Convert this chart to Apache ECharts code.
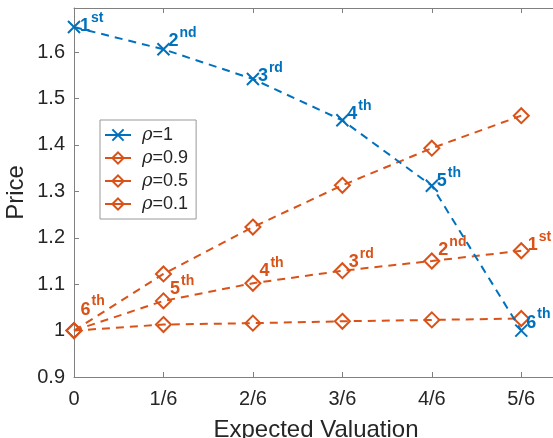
<!DOCTYPE html>
<html><head><meta charset="utf-8">
<script src="https://cdn.jsdelivr.net/npm/echarts@6/dist/echarts.min.js"></script>
<style>html,body{margin:0;padding:0;background:#fff}#c{width:553px;height:438px}</style>
</head><body><div id="c"></div>
<script>
// ---- data ----
const xSixths = [0, 1, 2, 3, 4, 5];
const xTickLabels = ['0', '1/6', '2/6', '3/6', '4/6', '5/6'];
const yTicks = [0.9, 1.0, 1.1, 1.2, 1.3, 1.4, 1.5, 1.6];
const yTickLabels = ['0.9', '1', '1.1', '1.2', '1.3', '1.4', '1.5', '1.6'];
const seriesNames = ['1', '0.9', '0.5', '0.1'];
const rho1 = [1.654, 1.606, 1.542, 1.453, 1.312, 1.0];
const rho09 = [1.0, 1.122, 1.223, 1.313, 1.393, 1.463];
const rho05 = [1.0, 1.064, 1.102, 1.129, 1.150, 1.172];
const rho01 = [1.0, 1.013, 1.016, 1.020, 1.023, 1.026];
const blueOrdinals = [['1', 'st'], ['2', 'nd'], ['3', 'rd'], ['4', 'th'], ['5', 'th'], ['6', 'th']];
const orangeOrdinals = [['6', 'th'], ['5', 'th'], ['4', 'th'], ['3', 'rd'], ['2', 'nd'], ['1', 'st']];

// ---- styles ----
const BLUE = '#0072BD', ORANGE = '#D95319', TXT = '#262626', AX = '#808080';
const FONT = 'Liberation Sans, Arial, Helvetica, sans-serif';
const blueOffsets = [[-1, -1], [-2, -8], [-2, -3], [-2, -6], [-2, -5], [-2, -8]];
const orangeOffsets = [[-2, -21], [-2, -12], [-2, -12], [-2, -9], [-2, -11], [-2, -6]];

function pts(arr) { return xSixths.map((x, i) => [x, arr[i]]); }
const rich = {
  n: { fontSize: 18, fontWeight: 'bold', lineHeight: 18, verticalAlign: 'bottom', fontFamily: FONT },
  s: { fontSize: 14, fontWeight: 'bold', lineHeight: 14, padding: [0, 0, 10, 1], verticalAlign: 'bottom', fontFamily: FONT }
};
function labeled(arr, ords, offs, color) {
  return xSixths.map((x, i) => ({
    value: [x, arr[i]],
    label: {
      show: true, position: 'right', distance: 0, offset: offs[i], color: color,
      formatter: '{n|' + ords[i][0] + '}{s|' + ords[i][1] + '}', rich: rich
    }
  }));
}
const xMark = 'path://M0,0L10,10M0,10L10,0';
const dashed = { type: [8, 6], width: 2 };

const chart = echarts.init(document.getElementById('c'), null, { renderer: 'canvas' });
const orangeSeries = (name, data) => ({
  name: name, type: 'line', data: data, symbol: 'diamond', symbolSize: 15,
  lineStyle: Object.assign({ color: ORANGE }, dashed),
  itemStyle: { color: 'rgba(0,0,0,0)', borderColor: ORANGE, borderWidth: 2 },
  z: 2
});
chart.setOption({
  animation: false,
  backgroundColor: '#fff',
  textStyle: { fontFamily: FONT, color: TXT },
  grid: { left: 74, top: 8, bottom: 61, right: -13, containLabel: false, outerBoundsMode: 'none' },
  legend: {
    orient: 'vertical', left: 100, top: 120,
    data: seriesNames.map(n => 'ρ=' + n),
    formatter: function (name) { return '{i|ρ}' + name.slice(1); },
    itemWidth: 26, itemHeight: 14, itemGap: 5,
    padding: [6, 8, 6, 4],
    borderColor: '#999', borderWidth: 1, backgroundColor: '#fff',
    lineStyle: { type: 'solid', width: 2 },
    textStyle: {
      fontSize: 18, color: TXT, fontFamily: FONT, padding: [0, 0, 0, 6],
      rich: { i: { fontSize: 18, fontStyle: 'italic', color: TXT, fontFamily: 'DejaVu Serif, serif' } }
    }
  },
  xAxis: [{
    type: 'value', min: 0, max: 5.5, interval: 1, position: 'bottom',
    name: 'Expected Valuation', nameLocation: 'middle', nameGap: 41, nameMoveOverlap: false,
    nameTextStyle: { fontSize: 24, color: TXT, fontFamily: FONT, padding: [0, 8, 0, 0] },
    axisLine: { show: true, lineStyle: { color: AX, width: 1 } },
    axisTick: { show: true, inside: true, length: 5, lineStyle: { color: AX } },
    axisLabel: {
      fontSize: 20, color: TXT, margin: 12, fontFamily: FONT,
      formatter: v => { const i = xSixths.indexOf(Math.round(v * 1000) / 1000); return i >= 0 ? xTickLabels[i] : ''; }
    },
    splitLine: { show: false }
  }, {
    type: 'value', min: 0, max: 5.5, interval: 1, position: 'top',
    axisLine: { show: true, lineStyle: { color: AX, width: 1 } },
    axisTick: { show: true, inside: true, length: 5, lineStyle: { color: AX } },
    axisLabel: { show: false }, splitLine: { show: false }
  }],
  yAxis: [{
    type: 'value', min: 0.9, max: 1.695, interval: 0.1,
    name: 'Price', nameLocation: 'middle', nameGap: 46, nameMoveOverlap: false,
    nameTextStyle: { fontSize: 24, color: TXT, fontFamily: FONT },
    axisLine: { show: true, lineStyle: { color: AX, width: 1 } },
    axisTick: { show: true, inside: true, length: 5, lineStyle: { color: AX } },
    axisLabel: {
      fontSize: 20, color: TXT, margin: 9, fontFamily: FONT,
      formatter: v => { const r = Math.round(v * 1000) / 1000; const i = yTicks.findIndex(t => Math.abs(t - r) < 1e-6); return i >= 0 ? yTickLabels[i] : ''; }
    },
    splitLine: { show: false }
  }],
  series: [
    {
      name: 'ρ=' + seriesNames[0], type: 'line', data: labeled(rho1, blueOrdinals, blueOffsets, BLUE),
      symbol: xMark, symbolSize: 12,
      lineStyle: Object.assign({ color: BLUE }, dashed),
      itemStyle: { color: BLUE, borderColor: BLUE, borderWidth: 2 },
      z: 3
    },
    orangeSeries('ρ=' + seriesNames[1], pts(rho09)),
    orangeSeries('ρ=' + seriesNames[2], labeled(rho05, orangeOrdinals, orangeOffsets, ORANGE)),
    orangeSeries('ρ=' + seriesNames[3], pts(rho01))
  ]
});
</script></body></html>
